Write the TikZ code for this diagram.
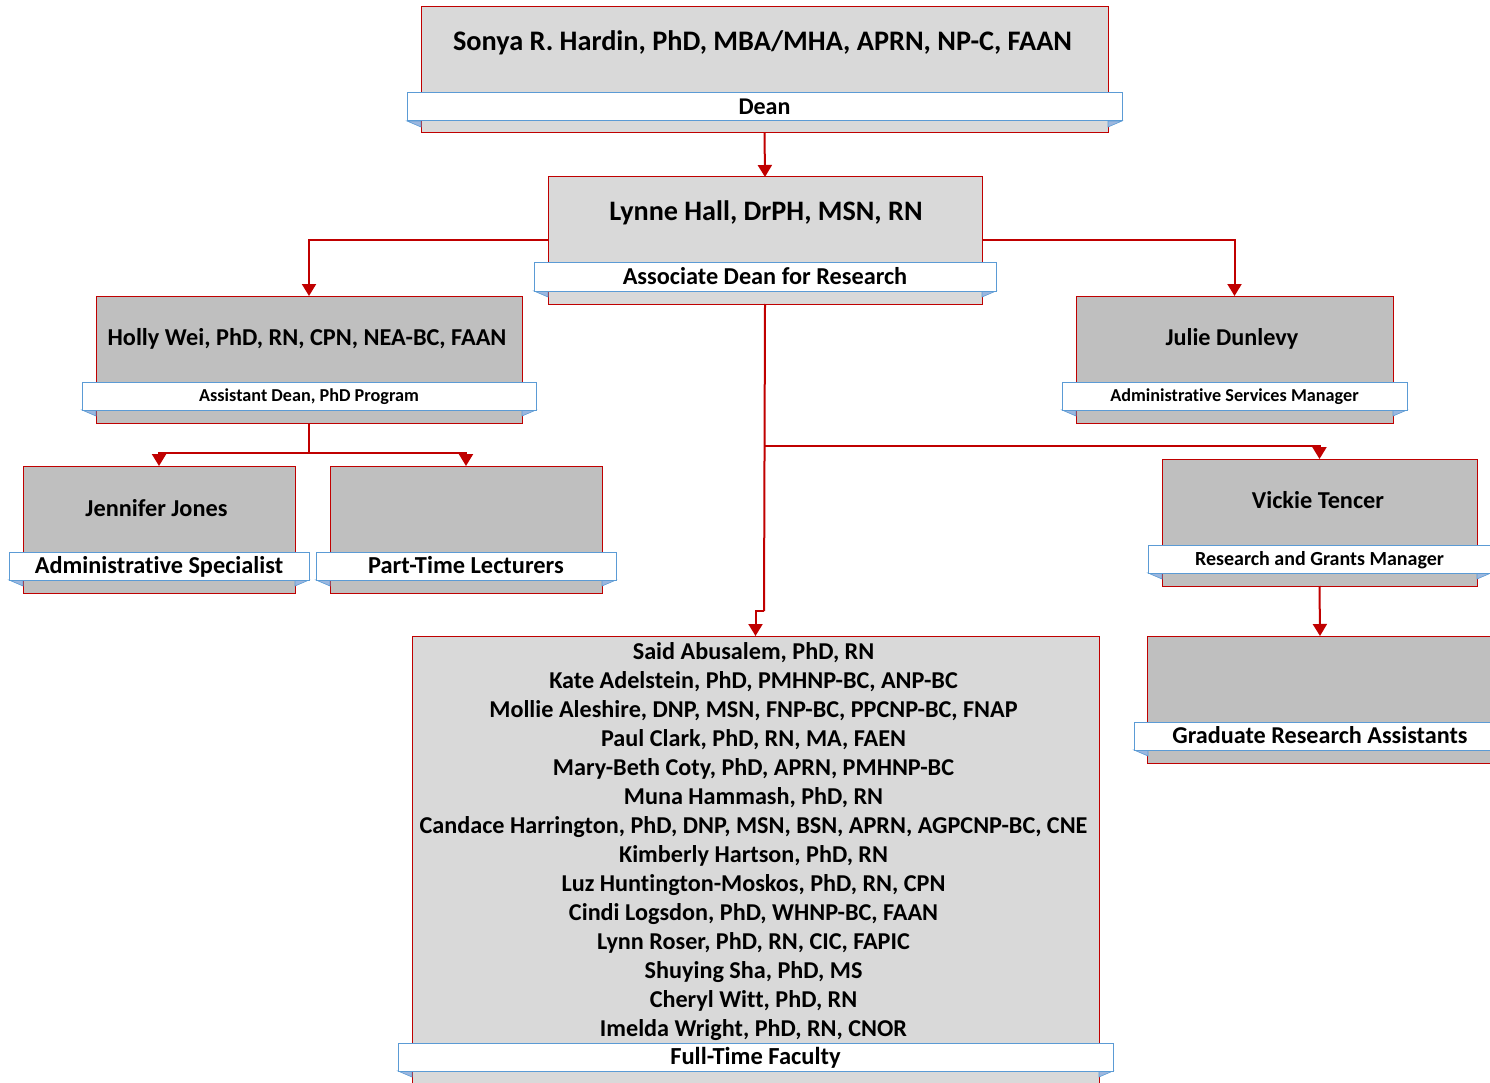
\documentclass[tikz,border=0pt]{standalone}
\usepackage{fontspec}
\setmainfont{Carlito}[Ligatures=NoCommon]
\usetikzlibrary{arrows.meta}
\definecolor{boxred}{HTML}{C00000}
\definecolor{linered}{HTML}{C00000}
\definecolor{lightfill}{HTML}{D9D9D9}
\definecolor{darkfill}{HTML}{BFBFBF}
\definecolor{bandblue}{HTML}{5B9BD5}
\definecolor{tabblue}{HTML}{9DB7DE}
\newcommand\fsz[1]{\fontsize{#1pt}{#1pt}\selectfont}
\tikzset{
  pbox/.style={draw=boxred, line width=1pt, inner sep=0pt, outer sep=0pt},
  band/.style={draw=bandblue, fill=white, line width=1pt, inner sep=0pt, outer sep=0pt},
  tab/.style={fill=tabblue, draw=bandblue, line width=0.6pt},
  conn/.style={draw=linered, line width=2pt, -{Triangle[width=14pt,length=12pt]}},
  plainconn/.style={draw=linered, line width=2pt},
  txt/.style={inner sep=0pt, font=\bfseries\fsz{#1},
    /utils/exec={\pgfmathsetlengthmacro\txh{0.63*#1}}, text height=\txh, text depth=0pt},
}
\newcommand\pbox[6]{%
  \pgfmathsetmacro\bw{#4-#2}\pgfmathsetmacro\bh{#5-#3}%
  \node[pbox, fill=#6, minimum width=\bw pt, minimum height=\bh pt] (#1) at ({(#2+#4)/2},{(#3+#5)/2}) {};}
\newcommand\band[7]{%
  \path[tab] (#2,#5) -- ({#2+14},#5) -- ({#2+14},{#5+6}) -- cycle;
  \path[tab] (#4,#5) -- ({#4-14},#5) -- ({#4-14},{#5+6}) -- cycle;
  \pgfmathsetmacro\bw{#4-#2}\pgfmathsetmacro\bh{#5-#3}%
  \node[band, minimum width=\bw pt, minimum height=\bh pt] (#1) at ({(#2+#4)/2},{(#3+#5)/2}) {};
  \node[txt=#6] (#1-t) at (#1.center) {#7};}
\begin{document}
\begin{tikzpicture}[x=1pt,y=-1pt]
\useasboundingbox (0,0) rectangle (1490,1083);
\clip (0,0) rectangle (1490,1083);
% boxes
\pbox{dean}{421}{7}{1108}{133}{lightfill}
\pbox{adr}{548}{177}{982}{304}{lightfill}
\pbox{wei}{96}{296}{522}{423}{darkfill}
\pbox{dun}{1076}{296}{1393}{423}{darkfill}
\pbox{jones}{23}{466}{295}{593}{darkfill}
\pbox{ptl}{330}{466}{602}{593}{darkfill}
\pbox{ten}{1162}{459}{1477}{586}{darkfill}
\pbox{gra}{1147}{636}{1493}{763}{darkfill}
\pbox{fac}{412}{636}{1099}{1100}{lightfill}
% labels
\band{deanL}{407}{93}{1122}{121}{24}{Dean}
\band{adrL}{534}{263}{996}{291}{24.3}{Associate Dean for Research}
\band{weiL}{82}{382}{536}{410}{18.2}{Assistant Dean, PhD Program}
\band{dunL}{1062}{382}{1407}{410}{18.2}{Administrative Services Manager}
\band{jonesL}{9}{552}{309}{580}{24.3}{Administrative Specialist}
\band{ptlL}{316}{552}{616}{580}{24.4}{Part-Time Lecturers}
\band{tenL}{1148}{545}{1491}{573}{20}{Research and Grants Manager}
\band{graL}{1134}{722}{1506}{750}{24.2}{Graduate Research Assistants}
\band{facL}{398}{1043}{1113}{1071}{24.5}{Full-Time Faculty}
% names
\node[txt=28.3] (deanN) at (762.5,42) {Sonya R. Hardin, PhD, MBA/MHA, APRN, NP-C, FAAN};
\node[txt=28.2] (adrN) at (766,212) {Lynne Hall, DrPH, MSN, RN};
\node[txt=24.3] (weiN) at (307,338) {Holly Wei, PhD, RN, CPN, NEA-BC, FAAN};
\node[txt=24.2] (dunN) at (1232,338) {Julie Dunlevy};
\node[txt=24.3] (jonesN) at (156.5,509) {Jennifer Jones};
\node[txt=24.3] (tenN) at (1318,501) {Vickie Tencer};
\foreach \t [count=\i from 0] in {%
  {Said Abusalem, PhD, RN},
  {Kate Adelstein, PhD, PMHNP-BC, ANP-BC},
  {Mollie Aleshire, DNP, MSN, FNP-BC, PPCNP-BC, FNAP},
  {Paul Clark, PhD, RN, MA, FAEN},
  {Mary-Beth Coty, PhD, APRN, PMHNP-BC},
  {Muna Hammash, PhD, RN},
  {Candace Harrington, PhD, DNP, MSN, BSN, APRN, AGPCNP-BC, CNE},
  {Kimberly Hartson, PhD, RN},
  {Luz Huntington-Moskos, PhD, RN, CPN},
  {Cindi Logsdon, PhD, WHNP-BC, FAAN},
  {Lynn Roser, PhD, RN, CIC, FAPIC},
  {Shuying Sha, PhD, MS},
  {Cheryl Witt, PhD, RN},
  {Imelda Wright, PhD, RN, CNOR}}
  \node[txt=24.2] (fac\i) at (753.5,{651.5+29*\i}) {\t};
% connectors
\coordinate (j1) at (764,446);
\coordinate (j2) at (764,611);
\coordinate (j3) at (309,453);
\draw[conn] (dean.south) -- (adr.north);
\draw[conn] (adr.west) -| (wei.north);
\draw[conn] (adr.east) -| (dun.north);
\draw[plainconn] (adr.south) -- (j2);
\draw[conn] (j1) -| (ten.north);
\draw[conn] (j2) -| (fac.north);
\draw[plainconn] (wei.south) -- (j3);
\draw[conn] (j3) -| (jones.north);
\draw[conn] (j3) -| (ptl.north);
\draw[conn] (ten.south) -- (gra.north);
\end{tikzpicture}
\end{document}
